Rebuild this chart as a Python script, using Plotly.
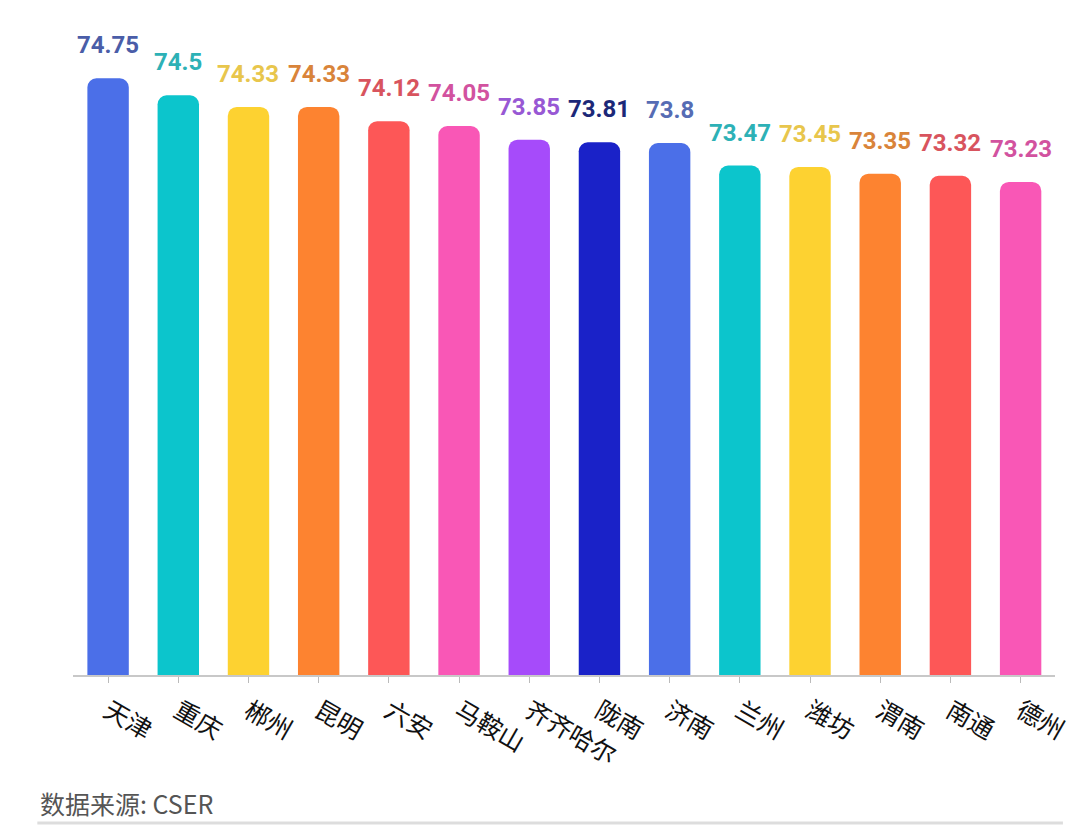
import plotly.graph_objects as go

cities = ['天津', '重庆', '郴州', '昆明', '六安', '马鞍山', '齐齐哈尔', '陇南', '济南', '兰州', '潍坊', '渭南', '南通', '德州']
values = [74.75, 74.5, 74.33, 74.33, 74.12, 74.05, 73.85, 73.81, 73.8, 73.47, 73.45, 73.35, 73.32, 73.23]
bar_colors = ['#4B6FE8', '#0CC5CC', '#FDD231', '#FD8330', '#FD5757', '#F957B6', '#A64BFA', '#1A22C8',
              '#4B6FE8', '#0CC5CC', '#FDD231', '#FD8330', '#FD5757', '#F957B6']
label_colors = ['#4A5DA8', '#2DB1B6', '#E8C64C', '#D9843A', '#D8545E', '#D2529F', '#9858D4', '#1C2878',
                '#566CB4', '#2DB1B6', '#E8C64C', '#D9843A', '#D8545E', '#D2529F']
source_text = '数据来源: CSER'

W, H = 1072, 839
ML, MR, MT, MB = 73, 8, 0, 164
pw, ph = W - ML - MR, H - MT - MB

fig = go.Figure()
fig.add_trace(go.Bar(
    x=cities, y=values,
    marker=dict(color=bar_colors, cornerradius=9, line=dict(width=0)),
    width=0.59,
    hoverinfo='x+y',
))

for c, v, col in zip(cities, values, label_colors):
    fig.add_annotation(
        x=c, y=v, text=f'{v:g}', showarrow=False,
        yanchor='bottom', yshift=17,
        font=dict(family='Roboto', size=24, color=col, weight='bold'),
    )

fig.add_annotation(
    xref='paper', yref='paper',
    x=(38 - ML) / pw, y=(ph - 803 + MT) / ph,
    xanchor='left', yanchor='middle', showarrow=False,
    text=source_text,
    font=dict(family='Noto Sans CJK SC', size=25, color='#555555'),
)
fig.add_shape(
    type='line', xref='paper', yref='paper',
    x0=(37 - ML) / pw, x1=(W - ML) / pw,
    y0=(ph - 823 + MT) / ph, y1=(ph - 823 + MT) / ph,
    line=dict(color='#DDDDDD', width=3),
)

fig.update_layout(
    width=W, height=H,
    margin=dict(l=ML, r=MR, t=MT, b=MB, pad=0),
    plot_bgcolor='white', paper_bgcolor='white',
    showlegend=False,
    xaxis=dict(
        range=[-0.5, 13.49],
        tickangle=30,
        tickfont=dict(family='Noto Sans CJK SC', size=25, color='#111111'),
        showline=True, linecolor='#C8C8C8', linewidth=2,
        ticks='outside', ticklen=6, tickcolor='#BBBBBB', tickwidth=1,
        showgrid=False, zeroline=False,
        ticklabelstandoff=4,
    ),
    yaxis=dict(
        range=[66, 66 + ph / 68.2],
        visible=False, showgrid=False, zeroline=False,
    ),
)

fig.write_html('out.html', config={'displayModeBar': False},
               post_script='document.body.style.margin="0";document.body.style.overflow="hidden";')
